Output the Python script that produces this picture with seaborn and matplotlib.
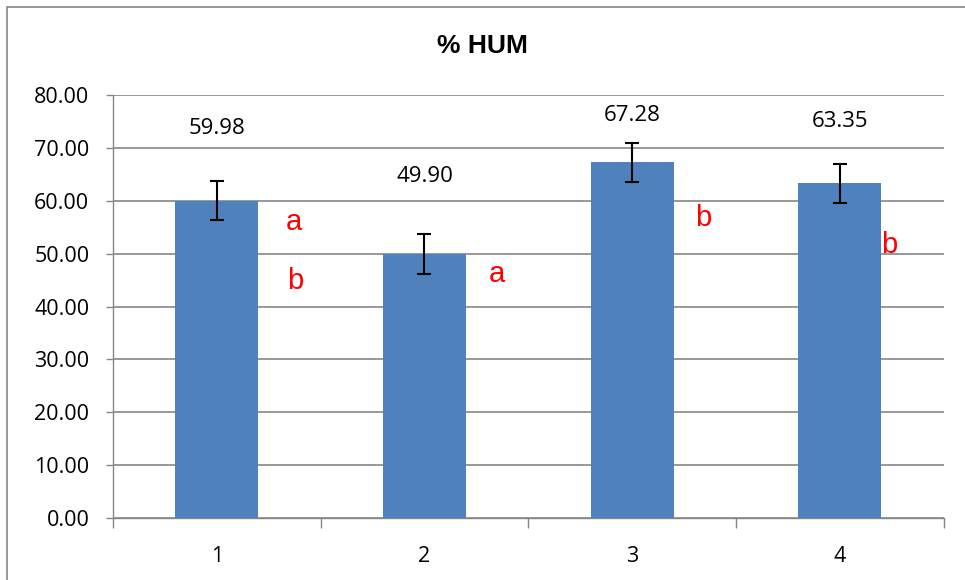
import matplotlib
matplotlib.use("Agg")
import matplotlib.pyplot as plt
import seaborn as sns
import pandas as pd
from matplotlib.patches import Rectangle

# Data
groups = ["1", "2", "3", "4"]
hum = [59.98, 49.90, 67.28, 63.35]
hum_err = [3.7, 3.8, 3.7, 3.7]
value_labels = ["59.98", "49.90", "67.28", "63.35"]
label_y = [73.7, 64.6, 76.2, 75.0]
letters = [["a", "b"], ["a"], ["b"], ["b"]]
letter_y = [[56.0, 44.8], [46.1], [56.7], [51.6]]
letter_dx = [[0.37, 0.38], [0.35], [0.34], [0.235]]

df = pd.DataFrame({"muestra": groups, "hum": hum})

sns.set_style("white")
plt.rcParams["font.family"] = ["Open Sans", "DejaVu Sans"]
plt.rcParams["text.color"] = "black"
plt.rcParams["xtick.color"] = "black"
plt.rcParams["ytick.color"] = "black"

fig = plt.figure(figsize=(9.65, 5.8), dpi=100)
ax = fig.add_axes([0.117, 0.107, 0.861, 0.729])

sns.barplot(
    data=df,
    x="muestra",
    y="hum",
    color="#4F81BD",
    saturation=1,
    width=0.4,
    errorbar=None,
    linewidth=0,
    ax=ax,
    zorder=3
)
ax.errorbar(
    range(len(hum)),
    hum,
    yerr=hum_err,
    fmt="none",
    ecolor="black",
    elinewidth=1.5,
    capsize=5,
    capthick=1.5,
    zorder=4
)

# value labels and letters
for i, txt in enumerate(value_labels):
    ax.text(i, label_y[i], txt, ha="center", va="center", fontsize=16)
    for let, ly, dx in zip(letters[i], letter_y[i], letter_dx[i]):
        ax.text(i + dx, ly, let, ha="center", va="center",
                color="red", fontsize=21, family="Liberation Sans")

ax.set_ylim(0, 80)
ax.set_xlim(-0.5, 3.5)
ax.set_yticks(range(0, 81, 10))
ax.set_yticklabels([f"{v:.2f}" for v in range(0, 81, 10)], fontsize=15.5)
ax.tick_params(axis="x", labelsize=15.5, length=0, pad=20)
ax.tick_params(axis="y", length=5, color="#868686", width=1, left=True, pad=12)
ax.set_xticks([-0.5, 0.5, 1.5, 2.5, 3.5], minor=True)
ax.tick_params(axis="x", which="minor", length=7, color="#868686", width=1, bottom=True)
ax.set_xlabel("")
ax.set_ylabel("")
ax.yaxis.grid(True, color="#868686", linewidth=1.2)
ax.set_axisbelow(True)
for s in ["top", "right"]:
    ax.spines[s].set_visible(False)
for s in ["left", "bottom"]:
    ax.spines[s].set_color("#868686")
    ax.spines[s].set_linewidth(1)

fig.text(0.5, 0.921, "% HUM", ha="center", va="center",
         fontsize=19, fontweight="bold", family="Liberation Sans")

# chart border
fig.patches.append(Rectangle((7 / 965, -0.1), 1.1, 1.1 - 7 / 580,
                             transform=fig.transFigure, fill=False,
                             edgecolor="#868686", linewidth=1.2))

fig.savefig("out.png", dpi=100)
